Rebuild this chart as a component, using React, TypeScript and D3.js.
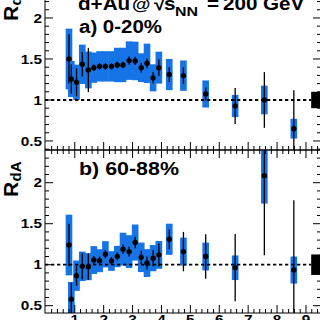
import React from "react";
import * as d3 from "d3";

// ---- data ----
const pT = [0.8, 0.88, 1.06, 1.26, 1.47, 1.66, 1.86, 2.06, 2.27, 2.47, 2.67, 2.88, 3.09, 3.3, 3.5, 3.71, 3.91, 4.27, 4.76, 5.53, 6.55, 7.56, 8.58];
const rdaCentral = [1.5, 1.256, 1.216, 1.435, 1.366, 1.394, 1.41, 1.41, 1.41, 1.427, 1.427, 1.48, 1.476, 1.394, 1.447, 1.27, 1.394, 1.31, 1.297, 1.073, 0.927, 1.0, 0.65];
const statCentral = [0.3, 0.18, 0.17, 0.15, 0.27, 0.04, 0.04, 0.04, 0.04, 0.04, 0.04, 0.05, 0.05, 0.06, 0.06, 0.07, 0.1, 0.09, 0.1, 0.08, 0.22, 0.34, 0.47];
const sysCentral = [0.37, 0.22, 0.215, 0.24, 0.225, 0.185, 0.185, 0.185, 0.185, 0.21, 0.21, 0.235, 0.235, 0.175, 0.24, 0.165, 0.195, 0.19, 0.185, 0.165, 0.135, 0.175, 0.12];
const rdaPeripheral = [1.24, 0.58, 0.866, 0.98, 0.976, 1.057, 1.049, 1.127, 1.045, 1.1, 1.19, 1.16, 1.27, 1.09, 1.02, 1.08, 1.12, 1.31, 1.16, 1.1, 0.963, 2.085, 0.935];
const statPeripheral = [0.26, 0.2, 0.12, 0.16, 0.16, 0.05, 0.05, 0.05, 0.05, 0.05, 0.06, 0.06, 0.07, 0.08, 0.08, 0.1, 0.14, 0.12, 0.24, 0.27, 0.41, 0.97, 0.85];
const sysPeripheral = [0.37, 0.21, 0.185, 0.18, 0.165, 0.17, 0.14, 0.16, 0.12, 0.13, 0.2, 0.2, 0.22, 0.18, 0.17, 0.16, 0.17, 0.19, 0.17, 0.17, 0.15, 0.34, 0.165];
const normCentral = 0.1;
const normPeripheral = 0.125;
const xTickLabels = ["1", "2", "3", "4", "5", "6", "7", "8", "9"];
const yTickLabels = ["0.5", "1", "1.5", "2"];
const panelLabels = ["a) 0-20%", "b) 60-88%"];

const FONT = "'Liberation Sans', Arial, Helvetica, sans-serif";
const BLUE = "#1774e6";
const SX = 1.18; // horizontal stretch of the text in the reference

const X0 = 45, X1 = 321;
const x = d3.scaleLinear().domain([-0.03, 9.52]).range([X0, X1]);

type PanelProps = {
  id: string;
  top: number;
  bottom: number;
  y: d3.ScaleLinear<number, number>;
  vals: number[];
  stat: number[];
  sys: number[];
  norm: number;
  label: string;
  labelY: number;
  labelLen: number;
  titleStart: number;
  xLabels: boolean;
};

function Panel(p: PanelProps) {
  const { id, top, bottom, y } = p;
  const [v0, v1] = y.domain();
  const yMinor = d3.range(Math.ceil(v0 * 10), Math.floor(v1 * 10) + 1).map((d) => d / 10);
  const xMinor = d3.range(1, 48).map((d) => d * 0.2).filter((d) => x(d) < X1);
  const hw = 0.115;
  return (
    <g>
      <defs>
        <clipPath id={id}>
          <rect x={X0} y={top} width={X1 - X0} height={bottom - top} />
        </clipPath>
      </defs>
      <g clipPath={`url(#${id})`}>
        {pT.map((t, i) => (
          <rect key={"s" + i} x={x(t - hw)} width={x(t + hw) - x(t - hw)}
            y={y(p.vals[i] + p.sys[i])} height={y(p.vals[i] - p.sys[i]) - y(p.vals[i] + p.sys[i])}
            fill={BLUE} />
        ))}
        <line x1={X0} x2={x(9.18)} y1={y(1)} y2={y(1)} stroke="#000" strokeWidth={1.8} strokeDasharray="3.3,2.7" />
        <rect x={x(9.18)} width={X1 - x(9.18)} y={y(1 + p.norm)} height={y(1 - p.norm) - y(1 + p.norm)} fill="#000" />
        {pT.map((t, i) => (
          <line key={"e" + i} x1={x(t)} x2={x(t)} y1={y(p.vals[i] + p.stat[i])} y2={y(p.vals[i] - p.stat[i])}
            stroke="#000" strokeWidth={1.3} />
        ))}
        {pT.map((t, i) => (
          <circle key={"m" + i} cx={x(t)} cy={y(p.vals[i])} r={2.7} fill="#000" />
        ))}
      </g>
      {/* frame */}
      <rect x={X0} y={top} width={X1 - X0} height={bottom - top} fill="none" stroke="#000" strokeWidth={1} />
      {/* y ticks */}
      {yMinor.map((v, i) => {
        const major = Math.abs(v * 2 - Math.round(v * 2)) < 1e-6;
        const L = major ? 8 : 4;
        return (
          <g key={"yt" + i}>
            <line x1={X0} x2={X0 + L} y1={y(v)} y2={y(v)} stroke="#000" strokeWidth={1} />
            <line x1={X1 - L} x2={X1} y1={y(v)} y2={y(v)} stroke="#000" strokeWidth={1} />
          </g>
        );
      })}
      {yTickLabels.map((s) => (
        <text key={"yl" + s} transform={`translate(42,${y(+s) + 4.6}) scale(${SX},1)`} textAnchor="end"
          fontFamily={FONT} fontWeight="bold" fontSize={13}>{s}</text>
      ))}
      {/* x ticks */}
      {xMinor.map((v, i) => {
        const major = Math.abs(v - Math.round(v)) < 1e-6;
        const L = major ? 8 : 4;
        return (
          <g key={"xt" + i}>
            <line x1={x(v)} x2={x(v)} y1={bottom} y2={bottom - L} stroke="#000" strokeWidth={1} />
            <line x1={x(v)} x2={x(v)} y1={top} y2={top + L} stroke="#000" strokeWidth={1} />
          </g>
        );
      })}
      {p.xLabels && xTickLabels.map((s) => (
        <text key={"xl" + s} transform={`translate(${x(+s)},${bottom + 11}) scale(${SX},1)`} textAnchor="middle"
          fontFamily={FONT} fontWeight="bold" fontSize={13}>{s}</text>
      ))}
      {/* panel label */}
      <text x={X0 + 34} y={p.labelY} fontFamily={FONT} fontWeight="bold" fontSize={17.5}
        textLength={p.labelLen} lengthAdjust="spacingAndGlyphs">{p.label}</text>
      {/* y title */}
      <g transform={`translate(18,${p.titleStart}) rotate(-90)`}>
        <text x={0} y={0} fontFamily={FONT} fontWeight="bold" fontSize={21}>R</text>
        <text x={15.5} y={3} fontFamily={FONT} fontWeight="bold" fontSize={15}>dA</text>
      </g>
    </g>
  );
}

export default function App() {
  const yTop = d3.scaleLinear().domain([0.39, 2.524]).range([150, -25]);
  const yBot = d3.scaleLinear().domain([0.411, 2.399]).range([313, 150]);
  const t = (s: string, x0: number, y0: number, fs: number) => (
    <text transform={`translate(${x0},${y0}) scale(${SX},1)`} fontFamily={FONT} fontWeight="bold" fontSize={fs}>{s}</text>
  );
  return (
    <svg width={320} height={320} style={{ position: "absolute", left: 0, top: 0, background: "#fff" }}>
      <rect x={0} y={0} width={320} height={320} fill="#fff" />
      <Panel id="cTop" top={-25} bottom={150} y={yTop} vals={rdaCentral} stat={statCentral} sys={sysCentral}
        norm={normCentral} label={panelLabels[0]} labelY={33.3} labelLen={83} titleStart={21} xLabels={false} />
      <Panel id="cBot" top={150} bottom={313} y={yBot} vals={rdaPeripheral} stat={statPeripheral} sys={sysPeripheral}
        norm={normPeripheral} label={panelLabels[1]} labelY={175} labelLen={100} titleStart={197} xLabels={true} />
      {/* title */}
      {t("d+Au", 78, 9.5, 17.5)}
      {t("@", 132, 9.5, 16)}
      {t("\u221A", 154, 9.5, 17.5)}
      {t("s", 164, 9.5, 17.5)}
      {t("NN", 175, 15.5, 13.5)}
      {t("=", 207, 9.5, 17.5)}
      {t("200", 223, 9.5, 17.5)}
      {t("GeV", 263, 9.5, 17.5)}
    </svg>
  );
}
